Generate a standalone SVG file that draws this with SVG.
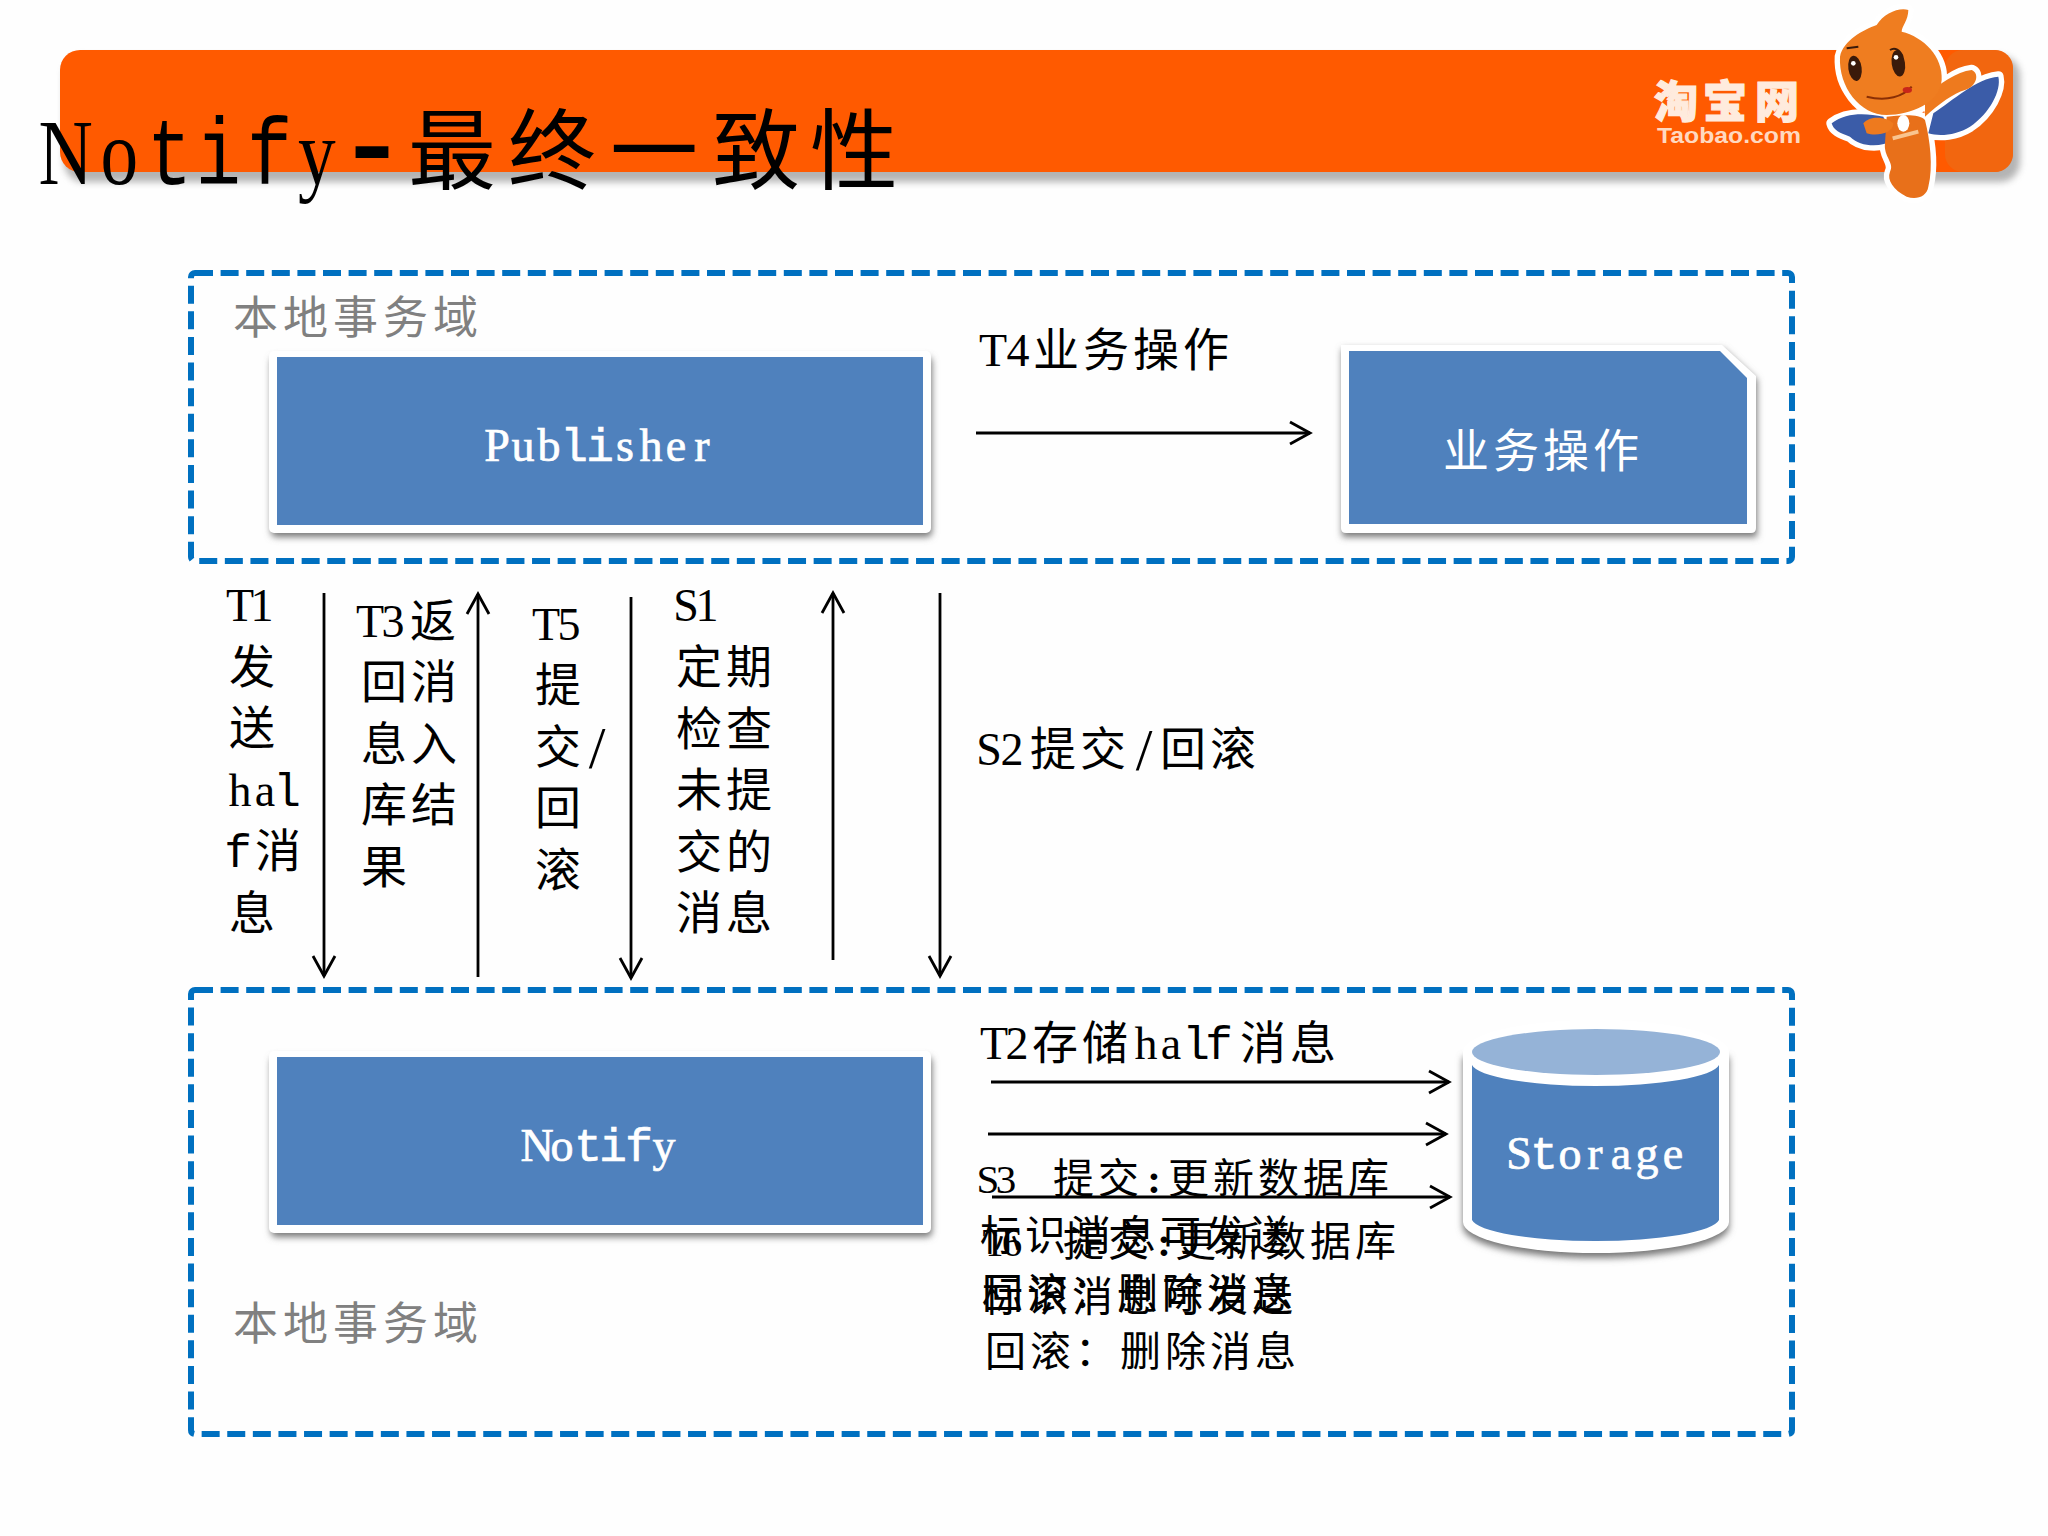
<svg xmlns="http://www.w3.org/2000/svg" width="2048" height="1536" viewBox="0 0 2048 1536">
<style>
text{font-family:"Noto Sans CJK SC",sans-serif;fill:#000;font-size:46px}
.l{font-family:"Liberation Serif",serif;text-anchor:middle}
.m{font-family:"Liberation Mono",monospace;text-anchor:middle}
.sl{font-size:60px}
.ttl{font-family:"Liberation Serif",serif;font-size:94px;text-anchor:middle}
.hy{font-family:"Liberation Mono",monospace;font-size:150px}
.title{font-size:88px}
.grey{fill:#808080;font-size:45px}
.w{fill:#fff;font-size:46px}
.ws{stroke:#fff;stroke-width:.7}
.sm{font-size:41px}
.dash{fill:none;stroke:#0070C0;stroke-width:6;stroke-dasharray:18 7.6}
.blue{fill:#4F81BD}
.white{fill:#fff}
.shade{fill:#777;filter:url(#b)}
.arrow{fill:none;stroke:#000;stroke-width:2.8;marker-end:url(#open)}
.logo{font-weight:900;font-size:44px;fill:#FFEBDD;stroke:#FFEBDD;stroke-width:1.2}
.logo2{font-family:"Liberation Sans",sans-serif;font-weight:700;font-size:22px;fill:#FFD9C0}
</style>
<defs>
<filter id="b" x="-10%" y="-30%" width="120%" height="160%"><feGaussianBlur stdDeviation="3.5"/></filter>
<marker id="open" markerUnits="userSpaceOnUse" markerWidth="30" markerHeight="30" refX="21" refY="13" orient="auto" overflow="visible"><path d="M1 2L21 13L1 24" fill="none" stroke="#000" stroke-width="2.8"/></marker>
</defs>
<rect width="2048" height="1536" fill="#fefefe"/>

<g id="header">
<rect x="64" y="56" width="1956" height="126" rx="20" class="shade" opacity=".55"/>
<rect x="60" y="50" width="1953" height="122" rx="20" fill="#FF5A00"/>
<rect x="1945" y="50" width="68" height="122" rx="18" fill="#F2660F"/>
<text class="logo" x="1654 1703 1755" y="118">淘宝网</text>
<text class="logo2" x="1657" y="143" textLength="144" lengthAdjust="spacingAndGlyphs">Taobao.com</text>
</g>

<g id="mascot" transform="translate(1600 0) scale(.33333)">
<g fill="#fff" stroke="#fff" stroke-width="32" stroke-linejoin="round">
<path d="M720 170C730 120 790 90 830 75C850 40 900 20 925 30C925 60 905 80 905 95C970 110 1030 170 1025 240C1020 310 930 345 860 345C780 345 715 260 720 170Z"/>
<path d="M1000 340C1060 300 1130 235 1195 230C1205 270 1170 340 1110 380C1070 405 1020 410 985 400Z"/>
<path d="M695 370C740 335 800 340 850 350L880 420C840 445 780 440 750 410C720 400 700 390 695 370Z"/>
<path d="M860 350C900 345 960 340 975 360C990 420 1000 500 985 560C980 590 950 600 920 590C880 570 860 540 870 515C885 490 850 470 855 430Z"/>
<path d="M985 300C1020 250 1070 215 1115 210C1140 220 1130 260 1095 270C1060 280 1020 310 990 340Z"/>
</g>
<path d="M1000 340C1060 300 1130 235 1195 230C1205 270 1170 340 1110 380C1070 405 1020 410 985 400Z" fill="#3B5CA8"/>
<path d="M695 370C740 335 800 340 850 350L880 420C840 445 780 440 750 410C720 400 700 390 695 370Z" fill="#3B5CA8"/>
<path d="M975 290C1020 250 1070 215 1115 210C1140 220 1130 260 1095 270C1060 280 1020 310 975 350Z" fill="#EE7A1E"/>
<path d="M860 350C900 345 960 340 975 360C990 420 1000 500 985 560C980 590 950 600 920 590C880 570 860 540 870 515C885 490 850 470 855 430Z" fill="#E8701A"/>
<path d="M790 370C810 345 860 350 880 370C880 400 830 410 800 400Z" fill="#EE7A1E"/>
<ellipse cx="910" cy="370" rx="18" ry="25" fill="#fff"/>
<path d="M878 415L955 395" stroke="#F9C48F" stroke-width="12" fill="none"/>
<path d="M720 170C730 120 790 90 830 75C850 40 900 20 925 30C925 60 905 80 905 95C970 110 1030 170 1025 240C1020 310 930 345 860 345C780 345 715 260 720 170Z" fill="#EF7D20"/>
<ellipse cx="765" cy="205" rx="20" ry="38" fill="#3A1A0A" transform="rotate(-8 765 205)"/>
<ellipse cx="895" cy="190" rx="20" ry="40" fill="#3A1A0A" transform="rotate(-8 895 190)"/>
<circle cx="760" cy="190" r="7" fill="#fff"/><circle cx="888" cy="172" r="7" fill="#fff"/>
<path d="M740 145L775 140M870 150C885 140 900 150 908 170" stroke="#3A1A0A" stroke-width="6" fill="none"/>
<path d="M800 290C860 305 910 290 935 260" stroke="#8A2F05" stroke-width="6" fill="none"/>
<ellipse cx="922" cy="270" rx="14" ry="9" fill="#C8261A"/>
</g>

<g id="title">
<text class="ttl" transform="scale(.8 1)" y="184"><tspan x="82 149">No</tspan><tspan class="m" x="212 273 337">tif</tspan><tspan x="396">y</tspan><tspan class="hy" x="465" y="192">-</tspan></text>
<text class="title" x="408 508 610 712 810" y="182">最终一致性</text>
</g>

<g id="domain-top">
<rect x="191" y="273" width="1601" height="288" rx="4" class="dash"/>
<text class="grey" x="233 283 333 383 433" y="334">本地事务域</text>
</g>

<g id="domain-bottom">
<rect x="191" y="990" width="1601" height="444" rx="4" class="dash"/>
<text class="grey" x="233 283 333 383 433" y="1340">本地事务域</text>
</g>

<g id="publisher">
<rect x="270" y="353" width="661" height="180" rx="5" class="shade" transform="translate(1 4)"/>
<rect x="269" y="351" width="662" height="182" rx="5" class="white"/>
<rect x="277" y="357" width="646" height="168" class="blue"/>
<text class="w l ws" y="461"><tspan x="497 523 549">Pub</tspan><tspan class="m" x="574 600">li</tspan><tspan x="625 651 676 702">sher</tspan></text>
</g>

<g id="biz">
<path d="M1341 345H1722L1756 376V533H1341Z" class="shade" transform="translate(1 4)"/>
<path d="M1341 345H1722L1756 376V528Q1756 533 1751 533H1346Q1341 533 1341 528Z" class="white"/>
<path d="M1349 351H1720L1747 378V524H1349Z" class="blue"/>
<text class="w" x="1443 1493 1543 1593" y="467">业务操作</text>
</g>

<g id="notify">
<rect x="270" y="1053" width="661" height="180" rx="5" class="shade" transform="translate(1 4)"/>
<rect x="269" y="1051" width="662" height="182" rx="5" class="white"/>
<rect x="277" y="1057" width="646" height="168" class="blue"/>
<text class="w l ws" y="1161"><tspan x="537 562">No</tspan><tspan class="m" x="588 613 639">tif</tspan><tspan x="664">y</tspan></text>
</g>

<g id="storage">
<path d="M1463 1052V1222A133 31 0 0 0 1729 1222V1052Z" class="shade" transform="translate(0 5)"/>
<path d="M1463 1052A133 32 0 0 1 1729 1052V1222A133 31 0 0 1 1463 1222Z" class="white"/>
<path d="M1472 1065A124 23 0 0 0 1719 1065V1220A124 23 0 0 1 1472 1220Z" class="blue"/>
<ellipse cx="1596" cy="1052" rx="124" ry="23" fill="#95B3D7"/>
<text class="w l ws" y="1169"><tspan x="1519">S</tspan><tspan class="m" x="1544">t</tspan><tspan x="1570 1595 1621 1647 1673">orage</tspan></text>
</g>

<g id="connectors">
<path class="arrow" d="M976 433H1310"/>
<path class="arrow" d="M324 593V976"/>
<path class="arrow" d="M478 977V594"/>
<path class="arrow" d="M631 597V978"/>
<path class="arrow" d="M833 960V593"/>
<path class="arrow" d="M940 593V976"/>
<path class="arrow" d="M991 1082H1449"/>
<path class="arrow" d="M988 1134H1446"/>
<path class="arrow" d="M992 1197H1450"/>
</g>

<g id="labels">
<text y="366"><tspan class="l" x="993 1018">T4</tspan><tspan x="1033 1083 1133 1183">业务操作</tspan></text>
<text class="l" x="240 262" y="621">T1</text>
<text x="229" y="683">发</text>
<text x="229" y="744">送</text>
<text y="806"><tspan class="l" x="240 265">ha</tspan><tspan class="m" x="287">l</tspan></text>
<text y="867"><tspan class="m" x="238">f</tspan><tspan x="255">消</tspan></text>
<text x="229" y="929">息</text>
<text y="637"><tspan class="l" x="370 393">T3</tspan><tspan x="410">返</tspan></text>
<text x="361 411" y="698">回消</text>
<text x="361 411" y="760">息入</text>
<text x="361 411" y="821">库结</text>
<text x="361" y="883">果</text>
<text class="l" x="546 569" y="640">T5</text>
<text x="535" y="701">提</text>
<text y="763"><tspan x="535">交</tspan><tspan class="l sl" x="597" y="768">/</tspan></text>
<text x="535" y="824">回</text>
<text x="535" y="886">滚</text>
<text class="l" x="686 707" y="621">S1</text>
<text x="676 726" y="683">定期</text>
<text x="676 726" y="745">检查</text>
<text x="676 726" y="806">未提</text>
<text x="676 726" y="868">交的</text>
<text x="676 726" y="929">消息</text>
<text y="765"><tspan class="l" x="989 1012">S2</tspan><tspan x="1030 1080">提交</tspan><tspan class="l sl" x="1144" y="770">/</tspan><tspan x="1160 1210" y="765">回滚</tspan></text>
<text y="1059"><tspan class="l" x="994 1017">T2</tspan><tspan x="1032 1082">存储</tspan><tspan class="l" x="1146 1171">ha</tspan><tspan class="m" x="1196 1219">lf</tspan><tspan x="1240 1290">消息</tspan></text>
</g>

<g id="note-s3">
<text class="sm" y="1193"><tspan class="l" x="988 1011">S3 </tspan><tspan x="1053 1098">提交</tspan><tspan class="l" font-weight="700" x="1154">:</tspan><tspan x="1168 1213 1258 1303 1348">更新数据库</tspan></text>
<text class="sm" x="980 1025 1070 1115 1160 1205 1250" y="1250">标识消息可发送</text>
<text class="sm" x="982 1027 1072 1117 1162 1207 1252" y="1308">回滚：删除消息</text>
</g>
<g id="note-t6">
<text class="sm" y="1256"><tspan class="l" x="995 1017">T6 </tspan><tspan x="1063 1108">提交</tspan><tspan class="l" font-weight="700" x="1164">:</tspan><tspan x="1175 1220 1265 1310 1355">更新数据库</tspan></text>
<text class="sm" x="982 1027 1072 1117 1162 1207 1252" y="1311">标识消息可发送</text>
<text class="sm" x="985 1030 1075 1120 1165 1210 1255" y="1366">回滚：删除消息</text>
</g>
</svg>
